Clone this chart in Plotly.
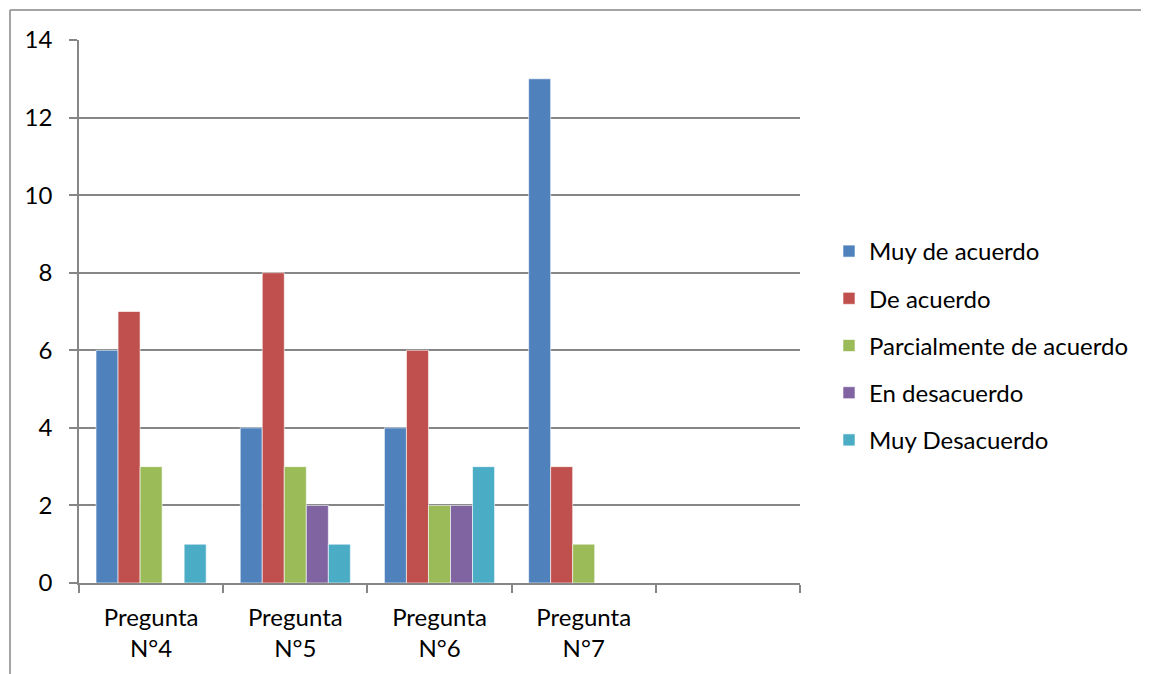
import plotly.graph_objects as go

categories = ["Pregunta<br>N°4", "Pregunta<br>N°5", "Pregunta<br>N°6", "Pregunta<br>N°7", " "]
series_names = ["Muy de acuerdo", "De acuerdo", "Parcialmente de acuerdo", "En desacuerdo", "Muy Desacuerdo"]
muy_de_acuerdo = [6, 4, 4, 13, None]
de_acuerdo = [7, 8, 6, 3, None]
parcialmente = [3, 3, 2, 1, None]
en_desacuerdo = [0, 2, 2, 0, None]
muy_desacuerdo = [1, 1, 3, 0, None]
colors = ["#4F81BD", "#C0504D", "#9BBB59", "#8064A2", "#4BACC6"]

all_values = [muy_de_acuerdo, de_acuerdo, parcialmente, en_desacuerdo, muy_desacuerdo]

FONT = "Lato, Calibri, sans-serif"
GRID = "#868686"

# the page puts the figure 8px in from the top-left corner
W, H = 1141, 666
L, T = 71, 32          # plot area left/top inside the figure
PW, PH = 721, 543      # plot area size

fig = go.Figure()
for name, vals, col in zip(series_names, all_values, colors):
    fig.add_trace(go.Bar(x=categories, y=vals, name=name, legendgroup=name,
                         marker=dict(color=col, line=dict(width=0.6, color="white"))))

# page px -> paper coords
def px_x(p): return (p - 8 - L) / PW
def px_y(p): return (T + PH - (p - 8)) / PH

fig.update_layout(
    width=W, height=H,
    margin=dict(l=L, r=W - L - PW, t=T, b=H - T - PH),
    plot_bgcolor="white", paper_bgcolor="white",
    barmode="group", bargap=0.236, bargroupgap=0,
    font=dict(family=FONT, size=24, color="black"),
    legend=dict(x=px_x(829), y=px_y(229), xanchor="left", yanchor="top",
                font=dict(size=24), tracegroupgap=13, itemwidth=30,
                traceorder="grouped"),
    showlegend=True,
    shapes=[
        dict(type="line", xref="paper", yref="paper", x0=px_x(10), x1=px_x(1170),
             y0=px_y(10), y1=px_y(10), line=dict(color=GRID, width=1.5)),
        dict(type="line", xref="paper", yref="paper", x0=px_x(10), x1=px_x(10),
             y0=px_y(10), y1=px_y(700), line=dict(color=GRID, width=1.5)),
    ],
)
fig.update_xaxes(showgrid=False, showline=True, linecolor=GRID, linewidth=1.5,
                 ticks="outside", tickson="boundaries", ticklen=8, tickcolor=GRID,
                 tickwidth=1.5, tickfont=dict(size=24), ticklabelstandoff=12,
                 fixedrange=True)
fig.update_yaxes(range=[0, 14], dtick=2, showgrid=True, gridcolor=GRID, gridwidth=1.5,
                 showline=True, linecolor=GRID, linewidth=1.5, zeroline=False,
                 ticks="outside", ticklen=8, tickcolor=GRID, tickwidth=1.5,
                 tickfont=dict(size=24), ticklabelstandoff=12)

fig.write_html("out.html")
